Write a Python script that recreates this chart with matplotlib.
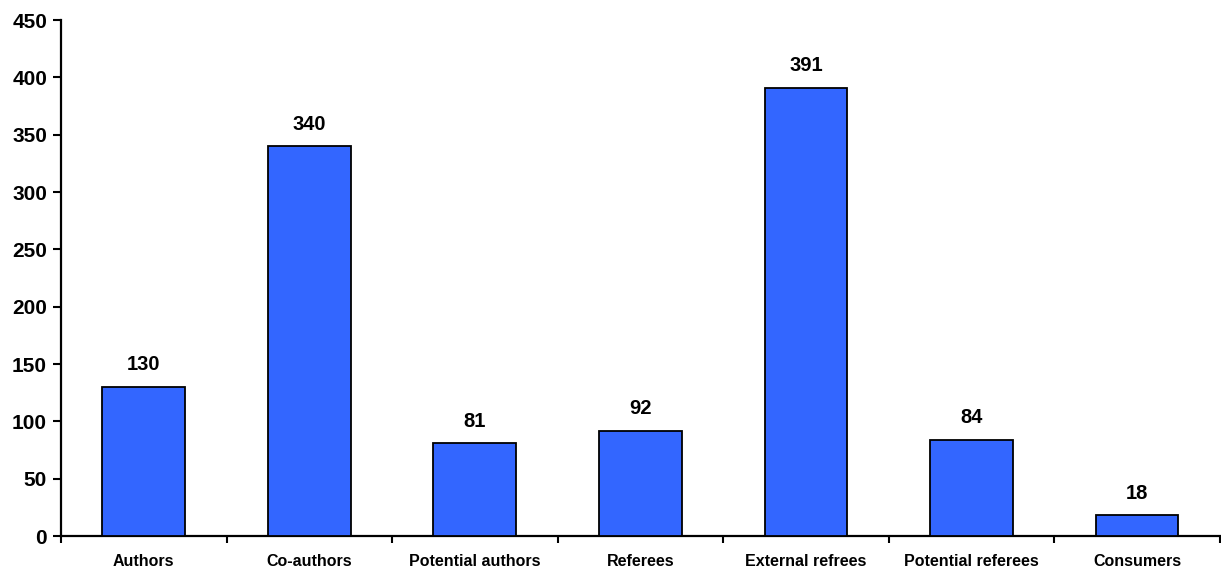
import matplotlib
matplotlib.use("Agg")
import matplotlib.pyplot as plt
import numpy as np

categories = ["Authors", "Co-authors", "Potential authors", "Referees",
              "External refrees", "Potential referees", "Consumers"]
values = [130, 340, 81, 92, 391, 84, 18]
yticks = [0, 50, 100, 150, 200, 250, 300, 350, 400, 450]

plt.rcParams['font.family'] = ['Liberation Sans', 'DejaVu Sans']
fig = plt.figure(figsize=(12.21, 5.70), dpi=100)
ax = fig.add_axes([61/1221, 1-536/570, 1-61/1221-0.001, (536-20)/570])

x = np.arange(len(categories))
ax.bar(x, values, width=0.5, color="#3366FF", edgecolor="black", linewidth=1.3, zorder=3)
for xi, v in zip(x, values):
    ax.text(xi, v + 11, str(v), ha="center", va="bottom", fontsize=14.5, fontweight="bold")

ax.set_xlim(-0.5, len(categories) - 0.5)
ax.set_ylim(0, 450)
ax.set_yticks(yticks)
ax.set_yticklabels([str(t) for t in yticks], fontsize=15, fontweight="bold")
ax.set_xticks(x)
ax.set_xticklabels(categories, fontsize=11.5, fontweight="bold")
ax.tick_params(axis="x", length=0, pad=13)
ax.set_xticks(np.arange(len(categories) + 1) - 0.5, minor=True)
ax.tick_params(axis="x", which="minor", length=5, width=1.5, direction="out")
ax.tick_params(axis="y", length=6, width=1.5, direction="out", pad=4)
for s in ["top", "right"]:
    ax.spines[s].set_visible(False)
for s in ["left", "bottom"]:
    ax.spines[s].set_linewidth(1.6)

fig.savefig("out.png", dpi=100)
